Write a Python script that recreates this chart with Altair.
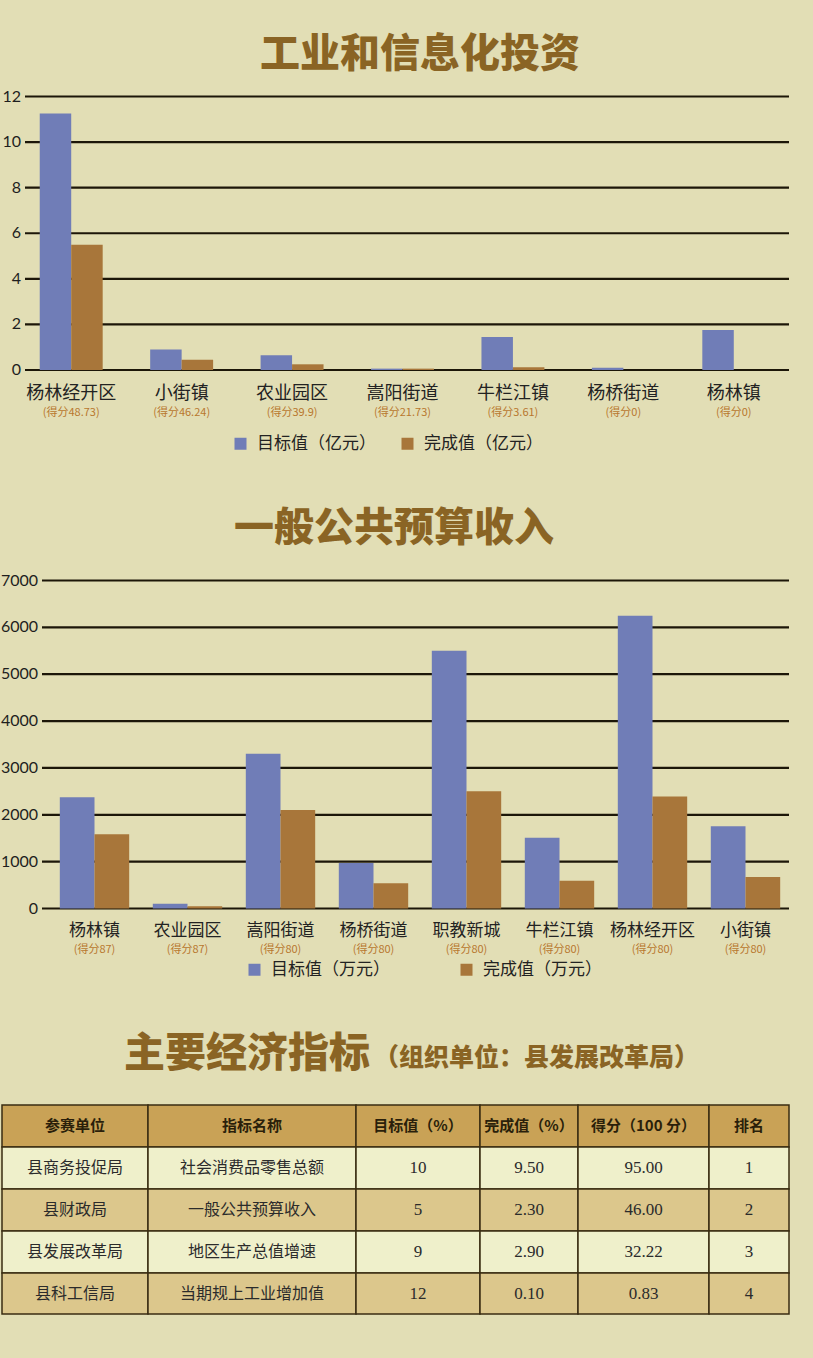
import altair as alt
import pandas as pd

# ---------------- data ----------------
c1_units = ["杨林经开区", "小街镇", "农业园区", "嵩阳街道", "牛栏江镇", "杨桥街道", "杨林镇"]
c1_scores = ["48.73", "46.24", "39.9", "21.73", "3.61", "0", "0"]
c1_target = [11.25, 0.9, 0.65, 0.06, 1.45, 0.1, 1.76]
c1_done = [5.5, 0.45, 0.25, 0.06, 0.12, 0, 0]
c1_series = ["目标值（亿元）", "完成值（亿元）"]
c1_ticks = [0, 2, 4, 6, 8, 10, 12]

c2_units = ["杨林镇", "农业园区", "嵩阳街道", "杨桥街道", "职教新城", "牛栏江镇", "杨林经开区", "小街镇"]
c2_scores = ["87", "87", "80", "80", "80", "80", "80", "80"]
c2_target = [2375, 100, 3300, 970, 5500, 1510, 6250, 1755]
c2_done = [1585, 50, 2100, 540, 2500, 590, 2390, 670]
c2_series = ["目标值（万元）", "完成值（万元）"]
c2_ticks = [0, 1000, 2000, 3000, 4000, 5000, 6000, 7000]

titles = ["工业和信息化投资", "一般公共预算收入", "主要经济指标", "（组织单位：县发展改革局）"]

tbl_header = ["参赛单位", "指标名称", "目标值（%）", "完成值（%）", "得分（100 分）", "排名"]
tbl_units = ["县商务投促局", "县财政局", "县发展改革局", "县科工信局"]
tbl_indicators = ["社会消费品零售总额", "一般公共预算收入", "地区生产总值增速", "当期规上工业增加值"]
tbl_target = ["10", "5", "9", "12"]
tbl_done = ["9.50", "2.30", "2.90", "0.10"]
tbl_score = ["95.00", "46.00", "32.22", "0.83"]
tbl_rank = ["1", "2", "3", "4"]

# ---------------- style / layout ----------------
W, H = 813, 1358
BG = "#E2DEB5"
BLUE = "#707DB7"
BROWN = "#A8763A"
TITLE_C = "#8A6424"
GRID_C = "#1C1608"
SCORE_C = "#B8772E"
CJK = "Noto Sans CJK SC"


def bar_section(units, scores, target, done, series, ticks, ymax, xrange, pin, pout,
                yrange, grid_x, label_x, cat_y, score_y, cat_size, legend_xy, col_pad):
    long = pd.DataFrame({
        "unit": units * 2,
        "series": [series[0]] * len(units) + [series[1]] * len(units),
        "value": list(target) + list(done),
    })
    cats = pd.DataFrame({"unit": units, "score": ["(得分" + s + ")" for s in scores]})
    tk = pd.DataFrame({"t": ticks, "lab": [str(t) for t in ticks]})

    xs = alt.Scale(domain=units, range=xrange, paddingInner=pin, paddingOuter=pout)
    ys = alt.Scale(domain=[0, ymax], range=yrange, nice=False, zero=True)

    grid = alt.Chart(tk).mark_rule(color=GRID_C, strokeWidth=2.2).encode(
        y=alt.Y("t:Q", scale=ys, axis=None),
        x=alt.value(grid_x[0]), x2=alt.value(grid_x[1]))
    ylab = alt.Chart(tk).mark_text(align="right", baseline="middle", font="Lato",
                                   fontSize=16, color="#1E1E1E").encode(
        y=alt.Y("t:Q", scale=ys, axis=None), x=alt.value(label_x), text="lab:N")
    bars = alt.Chart(long).mark_bar().encode(
        x=alt.X("unit:N", scale=xs, axis=None, sort=units),
        xOffset=alt.XOffset("series:N", scale=alt.Scale(domain=series, paddingInner=0, paddingOuter=0),
                            sort=series),
        y=alt.Y("value:Q", scale=ys, axis=None),
        color=alt.Color("series:N", scale=alt.Scale(domain=series, range=[BLUE, BROWN]),
                        legend=alt.Legend(orient="none", legendX=legend_xy[0], legendY=legend_xy[1],
                                          direction="horizontal", title=None, symbolType="square",
                                          symbolSize=144, symbolStrokeWidth=0, labelFont=CJK,
                                          labelFontSize=17, labelColor="#222222", labelOffset=8,
                                          columnPadding=col_pad, padding=0, labelLimit=300)))
    catlab = alt.Chart(cats).mark_text(baseline="middle", font=CJK, fontSize=cat_size,
                                       color="#222222").encode(
        x=alt.X("unit:N", scale=xs, axis=None, sort=units), y=alt.value(cat_y), text="unit:N")
    scorelab = alt.Chart(cats).mark_text(baseline="middle", font=CJK, fontSize=11,
                                         color=SCORE_C).encode(
        x=alt.X("unit:N", scale=xs, axis=None, sort=units), y=alt.value(score_y), text="score:N")
    return alt.layer(grid, bars, ylab, catlab, scorelab)


sec1 = bar_section(c1_units, c1_scores, c1_target, c1_done, c1_series, c1_ticks, 12,
                   [16, 789], 0.43, 0.215, [370, 96.5], (25, 789), 21, 394, 413, 18,
                   (232, 435), 23)
sec2 = bar_section(c2_units, c2_scores, c2_target, c2_done, c2_series, c2_ticks, 7000,
                   [48, 792], 0.254, 0.127, [908.5, 580.5], (42, 789), 38, 931, 950, 17,
                   (246, 961), 68)


def title_text(txt, x, y, size, align="center"):
    return alt.Chart(pd.DataFrame({"t": [txt]})).mark_text(
        font=CJK, fontSize=size, fontWeight=900, color=TITLE_C, align=align,
        baseline="middle").encode(x=alt.value(x), y=alt.value(y), text="t:N")


t1 = title_text(titles[0], 420, 55, 40)
t2 = title_text(titles[1], 394, 529, 40)
t3 = title_text(titles[2], 124, 1055, 41, "left")
t4 = title_text(titles[3], 374, 1058, 25, "left")

# ---------------- table ----------------
col_edges = [2, 148, 356, 480, 578, 709, 789]
row_edges = [1105, 1147, 1189, 1231, 1273, 1314]
row_fill = ["#C9A256", "#EFF0CB", "#DCC78C", "#EFF0CB", "#DCC78C"]

body_cols = [tbl_units, tbl_indicators, tbl_target, tbl_done, tbl_score, tbl_rank]
cells = []
for r in range(5):
    for c in range(6):
        if r == 0:
            txt, kind = tbl_header[c], "head"
        else:
            txt = body_cols[c][r - 1]
            kind = "cjk" if c < 2 else "num"
        cells.append({
            "x0": col_edges[c], "x1": col_edges[c + 1],
            "y0": row_edges[r], "y1": row_edges[r + 1],
            "xc": (col_edges[c] + col_edges[c + 1]) / 2,
            "yc": (row_edges[r] + row_edges[r + 1]) / 2,
            "fill": row_fill[r], "txt": txt, "kind": kind,
        })
cells = pd.DataFrame(cells)
px = alt.Scale(domain=[0, W], range=[0, W])
py = alt.Scale(domain=[0, H], range=[0, H])

rects = alt.Chart(cells).mark_rect(stroke="#3A2C12", strokeWidth=1.5).encode(
    x=alt.X("x0:Q", scale=px, axis=None), x2="x1:Q",
    y=alt.Y("y0:Q", scale=py, axis=None), y2="y1:Q",
    color=alt.Color("fill:N", scale=None))
head_t = alt.Chart(cells).transform_filter("datum.kind == 'head'").mark_text(
    font=CJK, fontSize=15, fontWeight="bold", color="#2A1F0A", baseline="middle").encode(
    x=alt.X("xc:Q", scale=px, axis=None), y=alt.Y("yc:Q", scale=py, axis=None), text="txt:N")
cjk_t = alt.Chart(cells).transform_filter("datum.kind == 'cjk'").mark_text(
    font=CJK, fontSize=16, color="#2B2B2B", baseline="middle").encode(
    x=alt.X("xc:Q", scale=px, axis=None), y=alt.Y("yc:Q", scale=py, axis=None), text="txt:N")
num_t = alt.Chart(cells).transform_filter("datum.kind == 'num'").mark_text(
    font="Liberation Serif", fontSize=17, color="#2B2B2B", baseline="middle").encode(
    x=alt.X("xc:Q", scale=px, axis=None), y=alt.Y("yc:Q", scale=py, axis=None), text="txt:N")
table = alt.layer(rects, head_t, cjk_t, num_t)

chart = alt.layer(sec1, sec2, table, t1, t2, t3, t4).resolve_scale(
    x="independent", y="independent", color="independent", xOffset="independent"
).resolve_legend(color="independent").properties(
    width=W, height=H, background=BG, padding=0,
    autosize=alt.AutoSizeParams(type="none")
).configure_view(stroke=None)

chart.save("out.html", embed_options={"renderer": "svg", "actions": False})
